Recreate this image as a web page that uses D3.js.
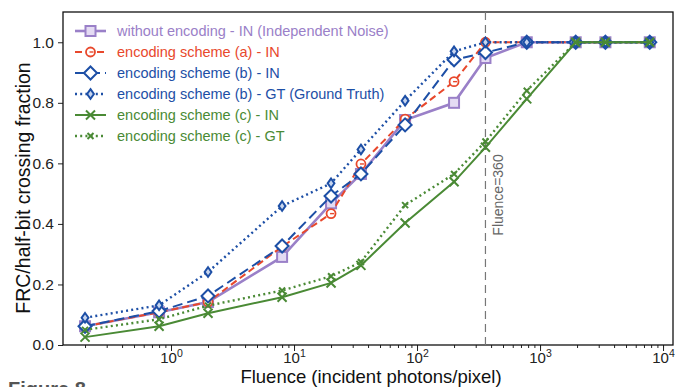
<!DOCTYPE html>
<html><head><meta charset="utf-8">
<script src="https://cdn.jsdelivr.net/npm/d3@7"></script>
<style>body{margin:0;background:#fff}svg{display:block;font-family:"Liberation Sans",Arial,sans-serif}</style>
</head><body><svg id="c" width="675" height="387"></svg>
<script>
const fluence = [0.2, 0.8, 2, 8, 20, 35, 80, 200, 360, 780, 1950, 3400, 7800];
const withoutIN = [0.062, 0.108, 0.142, 0.291, 0.468, 0.565, 0.743, 0.80, 0.948, 1, 1, 1, 1];
const schemeA_IN = [0.062, 0.108, 0.142, 0.325, 0.434, 0.598, 0.746, 0.87, 1, 1, 1, 1, 1];
const schemeB_IN = [0.062, 0.112, 0.162, 0.327, 0.492, 0.565, 0.727, 0.942, 0.966, 1, 1, 1, 1];
const schemeB_GT = [0.090, 0.131, 0.241, 0.459, 0.534, 0.646, 0.807, 0.970, 1, 1, 1, 1, 1];
const schemeC_IN = [0.026, 0.062, 0.105, 0.158, 0.205, 0.263, 0.403, 0.539, 0.653, 0.813, 1, 1, 1];
const schemeC_GT = [0.050, 0.085, 0.13, 0.18, 0.227, 0.274, 0.462, 0.565, 0.672, 0.840, 1, 1, 1];
const seriesNames = ["without encoding - IN (Independent Noise)", "encoding scheme (a) - IN", "encoding scheme (b) - IN",
  "encoding scheme (b) - GT (Ground Truth)", "encoding scheme (c) - IN", "encoding scheme (c) - GT"];
const yTicks = [0, 0.2, 0.4, 0.6, 0.8, 1.0];
const xMajor = [0, 1, 2, 3, 4];
const vLine = 360;

const series = [
  {name: seriesNames[0], v: withoutIN, color: "#9a80c8", dash: null, w: 2.6, marker: "square"},
  {name: seriesNames[1], v: schemeA_IN, color: "#e8482c", dash: "7,4", w: 2, marker: "circle"},
  {name: seriesNames[2], v: schemeB_IN, color: "#1d4fa6", dash: "10,5", w: 2, marker: "diamond"},
  {name: seriesNames[3], v: schemeB_GT, color: "#1d4fa6", dash: "2,3.2", w: 2.4, marker: "thin"},
  {name: seriesNames[4], v: schemeC_IN, color: "#4a8a35", dash: null, w: 2, marker: "x"},
  {name: seriesNames[5], v: schemeC_GT, color: "#4a8a35", dash: "2,3.2", w: 2.4, marker: "xs"}
];

const L = 63, R = 673, T = 12, B = 345;
const x = d3.scaleLog().domain([0.1324, 12050]).range([L, R]);
const y = d3.scaleLinear().domain([0, 1.1]).range([B, T]);
const svg = d3.select("#c");

// axes
const yAxis = d3.axisLeft(y).tickValues(yTicks).tickFormat(d3.format(".1f")).tickSize(5).tickPadding(4);
const gy = svg.append("g").attr("transform", `translate(${L},0)`).call(yAxis);
gy.selectAll("text").attr("font-size", 15.5).attr("fill", "#222");
const minor = [];
for (let e = -1; e <= 4; e++) for (let m = 1; m < 10; m++) { const v = m * Math.pow(10, e); if (v >= 0.1324 && v <= 12050) minor.push(v); }
const xAxis = d3.axisBottom(x).tickValues(minor).tickSize(3).tickFormat("");
svg.append("g").attr("transform", `translate(0,${B})`).call(xAxis);
const gx = svg.append("g").attr("transform", `translate(0,${B})`)
  .call(d3.axisBottom(x).tickValues(xMajor.map(e => Math.pow(10, e))).tickSize(6).tickFormat(""));
gx.selectAll(".tick").append("text").attr("y", 18).attr("text-anchor", "middle").attr("fill", "#222").attr("font-size", 15)
  .each(function(d) {
    const t = d3.select(this); const e = Math.round(Math.log10(d));
    t.append("tspan").text("10");
    t.append("tspan").attr("dy", -6).attr("font-size", 10.5).text(e);
  });
svg.selectAll(".domain").remove();
svg.selectAll(".tick line").attr("stroke", "#222");
svg.append("rect").attr("x", L).attr("y", T).attr("width", R - L).attr("height", B - T)
  .attr("fill", "none").attr("stroke", "#111").attr("stroke-width", 1.3);

// vertical line
svg.append("line").attr("x1", x(vLine)).attr("x2", x(vLine)).attr("y1", T).attr("y2", B)
  .attr("stroke", "#777").attr("stroke-width", 1.2).attr("stroke-dasharray", "8,5");
svg.append("text").attr("transform", `translate(${x(vLine) + 18},${195}) rotate(-90)`)
  .attr("text-anchor", "middle").attr("font-size", 14).attr("fill", "#666").text("Fluence=" + vLine);

function drawMarker(g, type, color, cx, cy) {
  if (type === "square") {
    g.append("rect").attr("x", cx - 5).attr("y", cy - 5).attr("width", 10).attr("height", 10)
      .attr("fill", "#e4dbf3").attr("stroke", color).attr("stroke-width", 2);
  } else if (type === "circle") {
    g.append("circle").attr("cx", cx).attr("cy", cy).attr("r", 4.5).attr("fill", "#fff").attr("stroke", color).attr("stroke-width", 1.8);
    g.append("line").attr("x1", cx - 1).attr("x2", cx + 3).attr("y1", cy).attr("y2", cy).attr("stroke", color).attr("stroke-width", 1.4);
  } else if (type === "diamond") {
    const s = 6.5;
    g.append("path").attr("d", `M${cx},${cy - s}L${cx + s},${cy}L${cx},${cy + s}L${cx - s},${cy}Z`)
      .attr("fill", "#fff").attr("stroke", color).attr("stroke-width", 2);
  } else if (type === "thin") {
    const h = 4.8, w = 3.4;
    g.append("path").attr("d", `M${cx},${cy - h}L${cx + w},${cy}L${cx},${cy + h}L${cx - w},${cy}Z`)
      .attr("fill", "#c9d6ee").attr("stroke", color).attr("stroke-width", 2);
  } else if (type === "x" || type === "xs") {
    const s = type === "x" ? 4.5 : 3;
    g.append("path").attr("d", `M${cx - s},${cy - s}L${cx + s},${cy + s}M${cx - s},${cy + s}L${cx + s},${cy - s}`)
      .attr("stroke", color).attr("stroke-width", 2);
  }
}

const line = d3.line().x((d, i) => x(fluence[i])).y(d => y(d));
series.forEach(s => {
  const g = svg.append("g");
  g.append("path").attr("d", line(s.v)).attr("fill", "none").attr("stroke", s.color)
    .attr("stroke-width", s.w).attr("stroke-dasharray", s.dash);
  s.v.forEach((v, i) => drawMarker(g, s.marker, s.color, x(fluence[i]), y(v)));
});

// legend
const lg = svg.append("g");
series.forEach((s, i) => {
  const yy = 31 + i * 21;
  lg.append("line").attr("x1", 75).attr("x2", 106).attr("y1", yy).attr("y2", yy).attr("stroke", s.color)
    .attr("stroke-width", s.w).attr("stroke-dasharray", s.dash);
  drawMarker(lg, s.marker, s.color, 90.5, yy);
  lg.append("text").attr("x", 117).attr("y", yy + 5).attr("font-size", 14.5).attr("fill", s.color).text(s.name);
});

// labels
svg.append("text").attr("x", 371).attr("y", 383).attr("text-anchor", "middle").attr("font-size", 18.5).attr("fill", "#111")
  .text("Fluence (incident photons/pixel)");
svg.append("text").attr("transform", "translate(30,188) rotate(-90)").attr("text-anchor", "middle").attr("font-size", 19.5)
  .attr("fill", "#111").text("FRC/half-bit crossing fraction");
svg.append("text").attr("x", 8).attr("y", 396).attr("font-size", 20).attr("font-weight", "bold").attr("fill", "#555").text("Figure 8");
</script></body></html>
